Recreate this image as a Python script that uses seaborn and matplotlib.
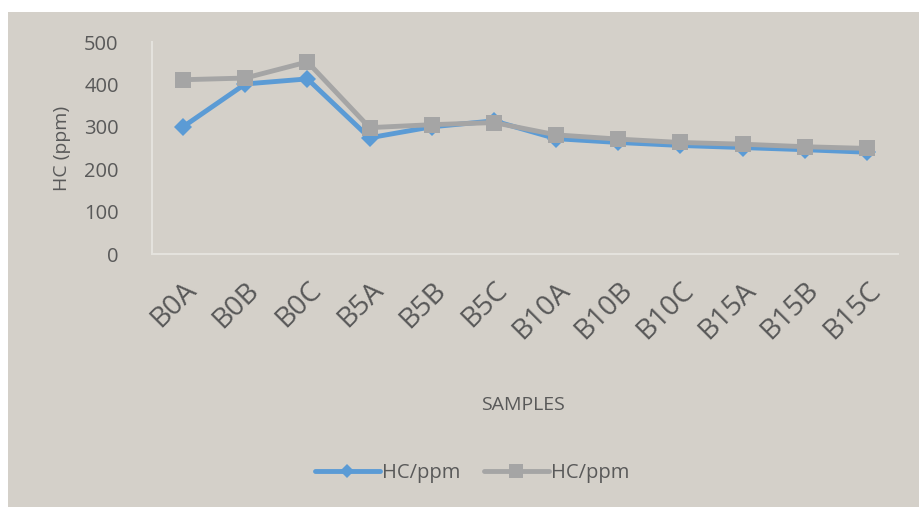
import matplotlib
matplotlib.use("Agg")
import matplotlib.pyplot as plt
import seaborn as sns
import pandas as pd
from matplotlib.patches import Rectangle

samples = ["B0A", "B0B", "B0C", "B5A", "B5B", "B5C",
           "B10A", "B10B", "B10C", "B15A", "B15B", "B15C"]
hc_series1 = [300, 401, 413, 274, 300, 314, 272, 263, 256, 251, 246, 240]
hc_series2 = [411, 415, 453, 298, 305, 310, 281, 271, 263, 259, 253, 249]
yticks = [0, 100, 200, 300, 400, 500]

sns.set_theme(style="white")
plt.rcParams['font.family'] = ['Open Sans', 'DejaVu Sans']

BG = "#d4d0c9"
TXT = "#595959"
W, H = 920, 507
fig = plt.figure(figsize=(W / 100, H / 100), dpi=100, facecolor="white")
fig.patches.append(Rectangle((8 / W, 0), 1, 1 - 12 / H, transform=fig.transFigure,
                             facecolor=BG, edgecolor="none", zorder=-10))

left, right, top, bottom = 152, 898, 42, 254
ax = fig.add_axes([left / W, 1 - bottom / H, (right - left) / W, (bottom - top) / H])
ax.set_facecolor(BG)

x = list(range(len(samples)))
df = pd.DataFrame({"x": x * 2,
                   "HC": hc_series1 + hc_series2,
                   "series": ["s1"] * len(x) + ["s2"] * len(x)})

sns.lineplot(data=df[df.series == "s1"], x="x", y="HC", ax=ax, color="#5b9bd5",
             lw=3.5, marker="D", markersize=9, markeredgewidth=0, zorder=3,
             label="HC/ppm")
sns.lineplot(data=df[df.series == "s2"], x="x", y="HC", ax=ax, color="#a5a5a5",
             lw=3.5, marker="s", markersize=12, markeredgewidth=0, zorder=4,
             label="HC/ppm")

ax.set_xlim(-0.5, len(samples) - 0.5)
ax.set_ylim(0, 500)
ax.set_yticks(yticks)
ax.set_yticklabels([str(v) for v in yticks], fontsize=14.5, color=TXT)
ax.set_xticks(x)
ax.set_xticklabels(samples, rotation=45, ha="right", rotation_mode="anchor",
                   fontsize=20.5, color=TXT)
ax.tick_params(axis="y", length=0, pad=24)
ax.tick_params(axis="x", length=0, pad=16)
for s in ["top", "right"]:
    ax.spines[s].set_visible(False)
for s in ["left", "bottom"]:
    ax.spines[s].set_color("#e4e2dd")
    ax.spines[s].set_linewidth(1.5)
ax.grid(False)

ax.set_xlabel("")
ax.set_ylabel("")
fig.text(62 / W, 1 - 148 / H, "HC (ppm)", rotation=90, ha="center", va="center",
         fontsize=14, color=TXT)
fig.text(523 / W, 1 - 405 / H, "SAMPLES", ha="center", va="center",
         fontsize=14, color=TXT)

leg = ax.legend(loc="center", bbox_to_anchor=(472 / W, 1 - 473 / H),
                bbox_transform=fig.transFigure, ncol=2, frameon=False,
                fontsize=14.5, handlelength=3.2, columnspacing=1.2, handletextpad=0.1,
                markerscale=0.8)
for t in leg.get_texts():
    t.set_color(TXT)

fig.savefig("out.png", dpi=100, facecolor="white")
